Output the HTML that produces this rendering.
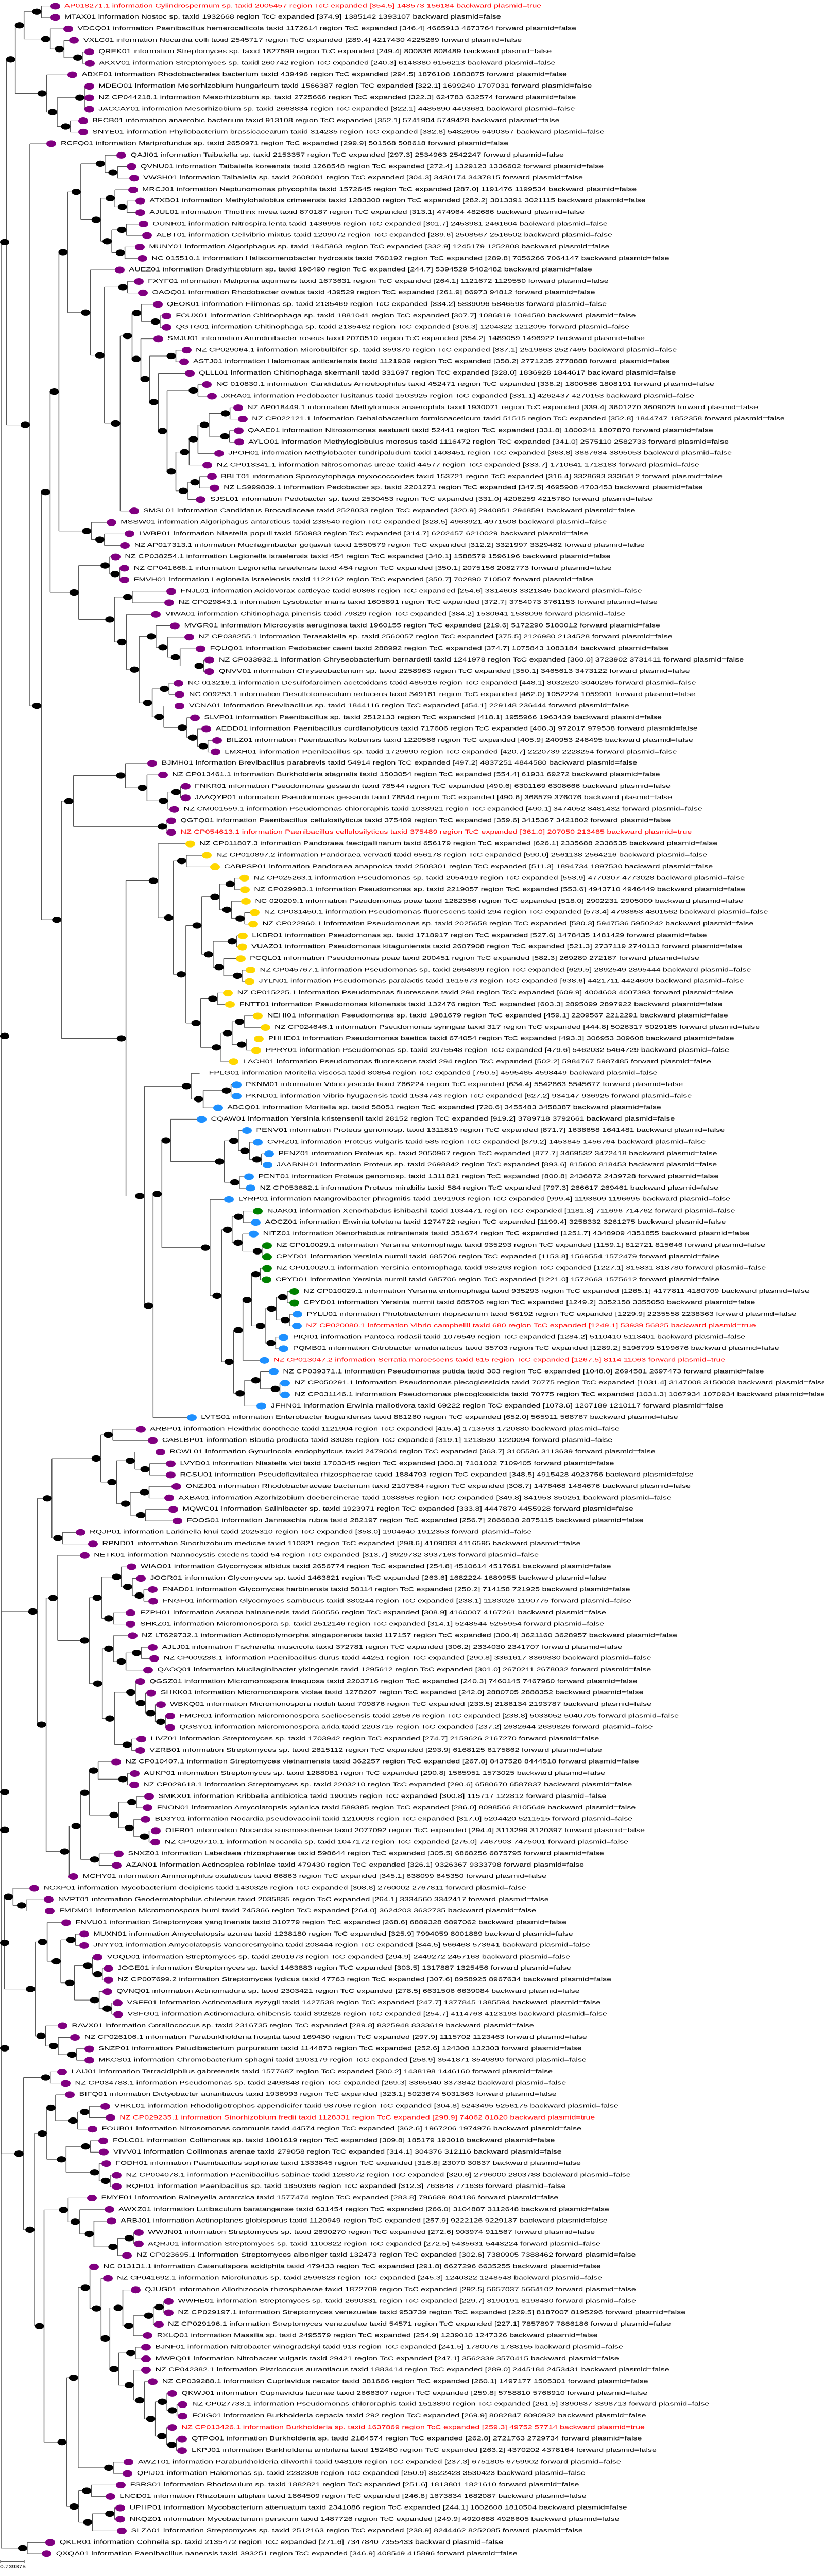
<!DOCTYPE html>
<html><head><meta charset="utf-8">
<style>
html,body{margin:0;padding:0;background:#fff;}
body{width:1600px;height:5000px;position:relative;overflow:hidden;font-family:"Liberation Sans",sans-serif;font-size:16px;color:#000;}
#wrap{position:absolute;left:0;top:0;width:1600px;height:7324px;transform:scaleY(0.6827);transform-origin:0 0;}
#tree{position:absolute;left:0;top:0;z-index:0;}
#rows{position:absolute;left:0;top:0;width:1600px;height:7324px;z-index:1;}
.L{position:absolute;left:0;top:calc(var(--i) * 32.63px + 0.7px);height:32.63px;line-height:32.63px;padding-left:calc(var(--x) * 1.02px + 18px);white-space:nowrap;box-sizing:border-box;}
.L::before{content:"";position:absolute;left:calc(var(--x) * 1.02px - 9.5px);top:calc(50% - 9.5px);width:19px;height:19px;border-radius:50%;background:#800080;}
.y::before{background:#FFD700;}
.b::before{background:#1E90FF;}
.g::before{background:#008000;}
.nd::before{display:none;}
.t{color:#ff0000;}
#scale{position:absolute;left:0;top:7270px;z-index:2;}
</style></head><body>
<div id="wrap">
<svg id="tree" width="1600" height="7324" xmlns="http://www.w3.org/2000/svg"></svg>
<div id="rows">
<div class="L t" style="--i:0;--x:105">AP018271.1 information Cylindrospermum sp. taxid 2005457 region TcC expanded [354.5] 148573 156184 backward plasmid=true</div>
<div class="L" style="--i:1;--x:105">MTAX01 information Nostoc sp. taxid 1932668 region TcC expanded [374.9] 1385142 1393107 backward plasmid=false</div>
<div class="L" style="--i:2;--x:130">VDCQ01 information Paenibacillus hemerocallicola taxid 1172614 region TcC expanded [346.4] 4665913 4673764 forward plasmid=false</div>
<div class="L" style="--i:3;--x:141">VXLC01 information Nocardia colli taxid 2545717 region TcC expanded [289.4] 4217430 4225269 forward plasmid=false</div>
<div class="L" style="--i:4;--x:170">QREK01 information Streptomyces sp. taxid 1827599 region TcC expanded [249.4] 800836 808489 backward plasmid=false</div>
<div class="L" style="--i:5;--x:171">AKXV01 information Streptomyces sp. taxid 260742 region TcC expanded [240.3] 6148380 6156213 backward plasmid=false</div>
<div class="L" style="--i:6;--x:138">ABXF01 information Rhodobacterales bacterium taxid 439496 region TcC expanded [294.5] 1876108 1883875 forward plasmid=false</div>
<div class="L" style="--i:7;--x:170">MDEO01 information Mesorhizobium hungaricum taxid 1566387 region TcC expanded [322.1] 1699240 1707031 forward plasmid=false</div>
<div class="L" style="--i:8;--x:170">NZ CP044218.1 information Mesorhizobium sp. taxid 2725666 region TcC expanded [322.3] 624783 632574 forward plasmid=false</div>
<div class="L" style="--i:9;--x:170">JACCAY01 information Mesorhizobium sp. taxid 2663834 region TcC expanded [322.1] 4485890 4493681 backward plasmid=false</div>
<div class="L" style="--i:10;--x:158">BFCB01 information anaerobic bacterium taxid 913108 region TcC expanded [352.1] 5741904 5749428 backward plasmid=false</div>
<div class="L" style="--i:11;--x:158">SNYE01 information Phyllobacterium brassicacearum taxid 314235 region TcC expanded [332.8] 5482605 5490357 backward plasmid=false</div>
<div class="L" style="--i:12;--x:98">RCFQ01 information Mariprofundus sp. taxid 2650971 region TcC expanded [299.9] 501568 508618 forward plasmid=false</div>
<div class="L" style="--i:13;--x:231">QAJI01 information Taibaiella sp. taxid 2153357 region TcC expanded [297.3] 2534963 2542247 forward plasmid=false</div>
<div class="L" style="--i:14;--x:250">QVNU01 information Taibaiella koreensis taxid 1268548 region TcC expanded [272.4] 1329123 1336602 forward plasmid=false</div>
<div class="L" style="--i:15;--x:255">VWSH01 information Taibaiella sp. taxid 2608001 region TcC expanded [304.3] 3430174 3437815 forward plasmid=false</div>
<div class="L" style="--i:16;--x:253">MRCJ01 information Neptunomonas phycophila taxid 1572645 region TcC expanded [287.0] 1191476 1199534 backward plasmid=false</div>
<div class="L" style="--i:17;--x:267">ATXB01 information Methylohalobius crimeensis taxid 1283300 region TcC expanded [282.2] 3013391 3021115 backward plasmid=false</div>
<div class="L" style="--i:18;--x:267">AJUL01 information Thiothrix nivea taxid 870187 region TcC expanded [313.1] 474964 482686 backward plasmid=false</div>
<div class="L" style="--i:19;--x:273">OUNR01 information Nitrospira lenta taxid 1436998 region TcC expanded [301.7] 2453981 2461604 backward plasmid=false</div>
<div class="L" style="--i:20;--x:280">ALBT01 information Cellvibrio mixtus taxid 1209072 region TcC expanded [289.6] 2508567 2516502 backward plasmid=false</div>
<div class="L" style="--i:21;--x:266">MUNY01 information Algoriphagus sp. taxid 1945863 region TcC expanded [332.9] 1245179 1252808 backward plasmid=false</div>
<div class="L" style="--i:22;--x:271">NC 015510.1 information Haliscomenobacter hydrossis taxid 760192 region TcC expanded [289.8] 7056266 7064147 backward plasmid=false</div>
<div class="L" style="--i:23;--x:228">AUEZ01 information Bradyrhizobium sp. taxid 196490 region TcC expanded [244.7] 5394529 5402482 backward plasmid=false</div>
<div class="L" style="--i:24;--x:264">FXYF01 information Maliponia aquimaris taxid 1673631 region TcC expanded [264.1] 1121672 1129550 forward plasmid=false</div>
<div class="L" style="--i:25;--x:272">OAOQ01 information Rhodobacter ovatus taxid 439529 region TcC expanded [261.9] 86973 94812 forward plasmid=false</div>
<div class="L" style="--i:26;--x:300">QEOK01 information Filimonas sp. taxid 2135469 region TcC expanded [334.2] 5839096 5846593 forward plasmid=false</div>
<div class="L" style="--i:27;--x:317">FOUX01 information Chitinophaga sp. taxid 1881041 region TcC expanded [307.7] 1086819 1094580 backward plasmid=false</div>
<div class="L" style="--i:28;--x:317">QGTG01 information Chitinophaga sp. taxid 2135462 region TcC expanded [306.3] 1204322 1212095 forward plasmid=false</div>
<div class="L" style="--i:29;--x:301">SMJU01 information Arundinibacter roseus taxid 2070510 region TcC expanded [354.2] 1489059 1496922 backward plasmid=false</div>
<div class="L" style="--i:30;--x:355">NZ CP029064.1 information Microbulbifer sp. taxid 359370 region TcC expanded [337.1] 2519863 2527465 backward plasmid=false</div>
<div class="L" style="--i:31;--x:350">ASTJ01 information Halomonas anticariensis taxid 1121939 region TcC expanded [358.2] 2771235 2778888 forward plasmid=false</div>
<div class="L" style="--i:32;--x:361">QLLL01 information Chitinophaga skermanii taxid 331697 region TcC expanded [328.0] 1836928 1844617 backward plasmid=false</div>
<div class="L" style="--i:33;--x:394">NC 010830.1 information Candidatus Amoebophilus taxid 452471 region TcC expanded [338.2] 1800586 1808191 forward plasmid=false</div>
<div class="L" style="--i:34;--x:403">JXRA01 information Pedobacter lusitanus taxid 1503925 region TcC expanded [331.1] 4262437 4270153 backward plasmid=false</div>
<div class="L" style="--i:35;--x:453">NZ AP018449.1 information Methylomusa anaerophila taxid 1930071 region TcC expanded [339.4] 3601270 3609025 forward plasmid=false</div>
<div class="L" style="--i:36;--x:462">NZ CP022121.1 information Dehalobacterium formicoaceticum taxid 51515 region TcC expanded [352.8] 1844747 1852358 forward plasmid=false</div>
<div class="L" style="--i:37;--x:454">QAAE01 information Nitrosomonas aestuarii taxid 52441 region TcC expanded [331.8] 1800241 1807870 forward plasmid=false</div>
<div class="L" style="--i:38;--x:455">AYLO01 information Methyloglobulus morosus taxid 1116472 region TcC expanded [341.0] 2575110 2582733 forward plasmid=false</div>
<div class="L" style="--i:39;--x:417">JPOH01 information Methylobacter tundripaludum taxid 1408451 region TcC expanded [363.8] 3887634 3895053 backward plasmid=false</div>
<div class="L" style="--i:40;--x:395">NZ CP013341.1 information Nitrosomonas ureae taxid 44577 region TcC expanded [333.7] 1710641 1718183 forward plasmid=false</div>
<div class="L" style="--i:41;--x:403">BBLT01 information Sporocytophaga myxococcoides taxid 153721 region TcC expanded [316.4] 3328693 3336412 forward plasmid=false</div>
<div class="L" style="--i:42;--x:408">NZ LS999839.1 information Pedobacter sp. taxid 2201271 region TcC expanded [347.5] 4695908 4703453 backward plasmid=false</div>
<div class="L" style="--i:43;--x:382">SJSL01 information Pedobacter sp. taxid 2530453 region TcC expanded [331.0] 4208259 4215780 forward plasmid=false</div>
<div class="L" style="--i:44;--x:255">SMSL01 information Candidatus Brocadiaceae taxid 2528033 region TcC expanded [320.9] 2940851 2948591 backward plasmid=false</div>
<div class="L" style="--i:45;--x:212">MSSW01 information Algoriphagus antarcticus taxid 238540 region TcC expanded [328.5] 4963921 4971508 backward plasmid=false</div>
<div class="L" style="--i:46;--x:247">LWBP01 information Niastella populi taxid 550983 region TcC expanded [314.7] 6202457 6210029 backward plasmid=false</div>
<div class="L" style="--i:47;--x:238">NZ AP017313.1 information Mucilaginibacter gotjawali taxid 1550579 region TcC expanded [312.2] 3321997 3329482 forward plasmid=false</div>
<div class="L" style="--i:48;--x:220">NZ CP038254.1 information Legionella israelensis taxid 454 region TcC expanded [340.1] 1588579 1596196 backward plasmid=false</div>
<div class="L" style="--i:49;--x:237">NZ CP041668.1 information Legionella israelensis taxid 454 region TcC expanded [350.1] 2075156 2082773 forward plasmid=false</div>
<div class="L" style="--i:50;--x:237">FMVH01 information Legionella israelensis taxid 1122162 region TcC expanded [350.7] 702890 710507 forward plasmid=false</div>
<div class="L" style="--i:51;--x:326">FNJL01 information Acidovorax cattleyae taxid 80868 region TcC expanded [254.6] 3314603 3321845 backward plasmid=false</div>
<div class="L" style="--i:52;--x:322">NZ CP029843.1 information Lysobacter maris taxid 1605891 region TcC expanded [372.7] 3754073 3761153 forward plasmid=false</div>
<div class="L" style="--i:53;--x:297">VIWA01 information Chitinophaga pinensis taxid 79329 region TcC expanded [384.2] 1530641 1538096 forward plasmid=false</div>
<div class="L" style="--i:54;--x:333">MVGR01 information Microcystis aeruginosa taxid 1960155 region TcC expanded [219.6] 5172290 5180012 forward plasmid=false</div>
<div class="L" style="--i:55;--x:360">NZ CP038255.1 information Terasakiella sp. taxid 2560057 region TcC expanded [375.5] 2126980 2134528 forward plasmid=false</div>
<div class="L" style="--i:56;--x:382">FQUQ01 information Pedobacter caeni taxid 288992 region TcC expanded [374.7] 1075843 1083184 backward plasmid=false</div>
<div class="L" style="--i:57;--x:399">NZ CP033932.1 information Chryseobacterium bernardetii taxid 1241978 region TcC expanded [360.0] 3723902 3731411 forward plasmid=false</div>
<div class="L" style="--i:58;--x:399">QNVV01 information Chryseobacterium sp. taxid 2258963 region TcC expanded [350.1] 3465613 3473122 forward plasmid=false</div>
<div class="L" style="--i:59;--x:340">NC 013216.1 information Desulfofarcimen acetoxidans taxid 485916 region TcC expanded [448.1] 3032620 3040285 forward plasmid=false</div>
<div class="L" style="--i:60;--x:342">NC 009253.1 information Desulfotomaculum reducens taxid 349161 region TcC expanded [462.0] 1052224 1059901 forward plasmid=false</div>
<div class="L" style="--i:61;--x:342">VCNA01 information Brevibacillus sp. taxid 1844116 region TcC expanded [454.1] 229148 236444 forward plasmid=false</div>
<div class="L" style="--i:62;--x:371">SLVP01 information Paenibacillus sp. taxid 2512133 region TcC expanded [418.1] 1955966 1963439 backward plasmid=false</div>
<div class="L" style="--i:63;--x:393">AEDD01 information Paenibacillus curdlanolyticus taxid 717606 region TcC expanded [408.3] 972017 979538 forward plasmid=false</div>
<div class="L" style="--i:64;--x:413">BILZ01 information Paenibacillus kobensis taxid 1220566 region TcC expanded [405.9] 240953 248495 backward plasmid=false</div>
<div class="L" style="--i:65;--x:410">LMXH01 information Paenibacillus sp. taxid 1729690 region TcC expanded [420.7] 2220739 2228254 forward plasmid=false</div>
<div class="L" style="--i:66;--x:290">BJMH01 information Brevibacillus parabrevis taxid 54914 region TcC expanded [497.2] 4837251 4844580 backward plasmid=false</div>
<div class="L" style="--i:67;--x:310">NZ CP013461.1 information Burkholderia stagnalis taxid 1503054 region TcC expanded [554.4] 61931 69272 backward plasmid=false</div>
<div class="L" style="--i:68;--x:353">FNKR01 information Pseudomonas gessardii taxid 78544 region TcC expanded [490.6] 6301169 6308666 backward plasmid=false</div>
<div class="L" style="--i:69;--x:353">JAAQYP01 information Pseudomonas gessardii taxid 78544 region TcC expanded [490.6] 368579 376076 backward plasmid=false</div>
<div class="L" style="--i:70;--x:332">NZ CM001559.1 information Pseudomonas chlororaphis taxid 1038921 region TcC expanded [490.1] 3474052 3481432 forward plasmid=false</div>
<div class="L" style="--i:71;--x:326">QGTQ01 information Paenibacillus cellulosilyticus taxid 375489 region TcC expanded [359.6] 3415367 3421802 forward plasmid=false</div>
<div class="L t" style="--i:72;--x:326">NZ CP054613.1 information Paenibacillus cellulosilyticus taxid 375489 region TcC expanded [361.0] 207050 213485 backward plasmid=true</div>
<div class="L y" style="--i:73;--x:362">NZ CP011807.3 information Pandoraea faecigallinarum taxid 656179 region TcC expanded [626.1] 2335688 2338535 backward plasmid=false</div>
<div class="L y" style="--i:74;--x:394">NZ CP010897.2 information Pandoraea vervacti taxid 656178 region TcC expanded [590.0] 2561138 2564216 backward plasmid=false</div>
<div class="L y" style="--i:75;--x:409">CABPSP01 information Pandoraea anapnoica taxid 2508301 region TcC expanded [511.3] 1894734 1897530 backward plasmid=false</div>
<div class="L y" style="--i:76;--x:465">NZ CP025263.1 information Pseudomonas sp. taxid 2054919 region TcC expanded [553.9] 4770307 4773028 backward plasmid=false</div>
<div class="L y" style="--i:77;--x:466">NZ CP029983.1 information Pseudomonas sp. taxid 2219057 region TcC expanded [553.6] 4943710 4946449 backward plasmid=false</div>
<div class="L y" style="--i:78;--x:468">NC 020209.1 information Pseudomonas poae taxid 1282356 region TcC expanded [518.0] 2902231 2905009 backward plasmid=false</div>
<div class="L y" style="--i:79;--x:485">NZ CP031450.1 information Pseudomonas fluorescens taxid 294 region TcC expanded [573.4] 4798853 4801562 backward plasmid=false</div>
<div class="L y" style="--i:80;--x:482">NZ CP022960.1 information Pseudomonas sp. taxid 2025658 region TcC expanded [580.3] 5947536 5950242 backward plasmid=false</div>
<div class="L y" style="--i:81;--x:462">LKBR01 information Pseudomonas sp. taxid 1718917 region TcC expanded [527.6] 1478435 1481429 forward plasmid=false</div>
<div class="L y" style="--i:82;--x:461">VUAZ01 information Pseudomonas kitaguniensis taxid 2607908 region TcC expanded [521.3] 2737119 2740113 forward plasmid=false</div>
<div class="L y" style="--i:83;--x:458">PCQL01 information Pseudomonas poae taxid 200451 region TcC expanded [582.3] 269289 272187 forward plasmid=false</div>
<div class="L y" style="--i:84;--x:477">NZ CP045767.1 information Pseudomonas sp. taxid 2664899 region TcC expanded [629.5] 2892549 2895444 backward plasmid=false</div>
<div class="L y" style="--i:85;--x:475">JYLN01 information Pseudomonas paralactis taxid 1615673 region TcC expanded [638.6] 4421711 4424609 backward plasmid=false</div>
<div class="L y" style="--i:86;--x:434">NZ CP015225.1 information Pseudomonas fluorescens taxid 294 region TcC expanded [609.9] 4004603 4007393 forward plasmid=false</div>
<div class="L y" style="--i:87;--x:438">FNTT01 information Pseudomonas kilonensis taxid 132476 region TcC expanded [603.3] 2895099 2897922 backward plasmid=false</div>
<div class="L y" style="--i:88;--x:491">NEHI01 information Pseudomonas sp. taxid 1981679 region TcC expanded [459.1] 2209567 2212291 backward plasmid=false</div>
<div class="L y" style="--i:89;--x:505">NZ CP024646.1 information Pseudomonas syringae taxid 317 region TcC expanded [444.8] 5026317 5029185 forward plasmid=false</div>
<div class="L y" style="--i:90;--x:493">PHHE01 information Pseudomonas baetica taxid 674054 region TcC expanded [493.3] 306953 309608 backward plasmid=false</div>
<div class="L y" style="--i:91;--x:488">PPRY01 information Pseudomonas sp. taxid 2075548 region TcC expanded [479.6] 5462032 5464729 backward plasmid=false</div>
<div class="L y" style="--i:92;--x:445">LACH01 information Pseudomonas fluorescens taxid 294 region TcC expanded [502.2] 5984767 5987485 forward plasmid=false</div>
<div class="L nd" style="--i:93;--x:380">FPLG01 information Moritella viscosa taxid 80854 region TcC expanded [750.5] 4595485 4598449 backward plasmid=false</div>
<div class="L b" style="--i:94;--x:450">PKNM01 information Vibrio jasicida taxid 766224 region TcC expanded [634.4] 5542863 5545677 forward plasmid=false</div>
<div class="L b" style="--i:95;--x:450">PKND01 information Vibrio hyugaensis taxid 1534743 region TcC expanded [627.2] 934147 936925 forward plasmid=false</div>
<div class="L b" style="--i:96;--x:415">ABCQ01 information Moritella sp. taxid 58051 region TcC expanded [720.6] 3455483 3458387 backward plasmid=false</div>
<div class="L b" style="--i:97;--x:384">CQAW01 information Yersinia kristensenii taxid 28152 region TcC expanded [919.2] 3789718 3792661 backward plasmid=false</div>
<div class="L b" style="--i:98;--x:470">PENV01 information Proteus genomosp. taxid 1311819 region TcC expanded [871.7] 1638658 1641481 backward plasmid=false</div>
<div class="L b" style="--i:99;--x:491">CVRZ01 information Proteus vulgaris taxid 585 region TcC expanded [879.2] 1453845 1456764 backward plasmid=false</div>
<div class="L b" style="--i:100;--x:512">PENZ01 information Proteus sp. taxid 2050967 region TcC expanded [877.7] 3469532 3472418 backward plasmid=false</div>
<div class="L b" style="--i:101;--x:509">JAABNH01 information Proteus sp. taxid 2698842 region TcC expanded [893.6] 815600 818453 backward plasmid=false</div>
<div class="L b" style="--i:102;--x:474">PENT01 information Proteus genomosp. taxid 1311821 region TcC expanded [800.8] 2436872 2439728 forward plasmid=false</div>
<div class="L b" style="--i:103;--x:477">NZ CP053682.1 information Proteus mirabilis taxid 584 region TcC expanded [797.3] 266617 269461 backward plasmid=false</div>
<div class="L b" style="--i:104;--x:436">LYRP01 information Mangrovibacter phragmitis taxid 1691903 region TcC expanded [999.4] 1193809 1196695 backward plasmid=false</div>
<div class="L g" style="--i:105;--x:491">NJAK01 information Xenorhabdus ishibashii taxid 1034471 region TcC expanded [1181.8] 711696 714762 forward plasmid=false</div>
<div class="L b" style="--i:106;--x:487">AOCZ01 information Erwinia toletana taxid 1274722 region TcC expanded [1199.4] 3258332 3261275 backward plasmid=false</div>
<div class="L b" style="--i:107;--x:483">NITZ01 information Xenorhabdus miraniensis taxid 351674 region TcC expanded [1251.7] 4348909 4351855 backward plasmid=false</div>
<div class="L g" style="--i:108;--x:508">NZ CP010029.1 information Yersinia entomophaga taxid 935293 region TcC expanded [1159.1] 812721 815646 forward plasmid=false</div>
<div class="L g" style="--i:109;--x:508">CPYD01 information Yersinia nurmii taxid 685706 region TcC expanded [1153.8] 1569554 1572479 forward plasmid=false</div>
<div class="L g" style="--i:110;--x:508">NZ CP010029.1 information Yersinia entomophaga taxid 935293 region TcC expanded [1227.1] 815831 818780 forward plasmid=false</div>
<div class="L g" style="--i:111;--x:507">CPYD01 information Yersinia nurmii taxid 685706 region TcC expanded [1221.0] 1572663 1575612 forward plasmid=false</div>
<div class="L g" style="--i:112;--x:560">NZ CP010029.1 information Yersinia entomophaga taxid 935293 region TcC expanded [1265.1] 4177811 4180709 backward plasmid=false</div>
<div class="L g" style="--i:113;--x:560">CPYD01 information Yersinia nurmii taxid 685706 region TcC expanded [1249.2] 3352158 3355050 backward plasmid=false</div>
<div class="L b" style="--i:114;--x:566">PYLU01 information Photobacterium iliopiscarium taxid 56192 region TcC expanded [1229.9] 2235558 2238363 forward plasmid=false</div>
<div class="L b t" style="--i:115;--x:565">NZ CP020080.1 information Vibrio campbellii taxid 680 region TcC expanded [1249.1] 53939 56825 backward plasmid=true</div>
<div class="L b" style="--i:116;--x:540">PIQI01 information Pantoea rodasii taxid 1076549 region TcC expanded [1284.2] 5110410 5113401 backward plasmid=false</div>
<div class="L b" style="--i:117;--x:540">PQMB01 information Citrobacter amalonaticus taxid 35703 region TcC expanded [1289.2] 5196799 5199676 backward plasmid=false</div>
<div class="L b t" style="--i:118;--x:503">NZ CP013047.2 information Serratia marcescens taxid 615 region TcC expanded [1267.5] 8114 11063 forward plasmid=true</div>
<div class="L b" style="--i:119;--x:521">NZ CP039371.1 information Pseudomonas putida taxid 303 region TcC expanded [1048.0] 2694581 2697473 forward plasmid=false</div>
<div class="L b" style="--i:120;--x:543">NZ CP050291.1 information Pseudomonas plecoglossicida taxid 70775 region TcC expanded [1031.4] 3147008 3150008 backward plasmid=false</div>
<div class="L b" style="--i:121;--x:543">NZ CP031146.1 information Pseudomonas plecoglossicida taxid 70775 region TcC expanded [1031.3] 1067934 1070934 backward plasmid=false</div>
<div class="L b" style="--i:122;--x:498">JFHN01 information Erwinia mallotivora taxid 69222 region TcC expanded [1073.6] 1207189 1210117 forward plasmid=false</div>
<div class="L b" style="--i:123;--x:365">LVTS01 information Enterobacter bugandensis taxid 881260 region TcC expanded [652.0] 565911 568767 backward plasmid=false</div>
<div class="L" style="--i:124;--x:268">ARBP01 information Flexithrix dorotheae taxid 1121904 region TcC expanded [415.4] 1713593 1720880 backward plasmid=false</div>
<div class="L" style="--i:125;--x:291">CABLBP01 information Blautia producta taxid 33035 region TcC expanded [319.1] 1213530 1220094 forward plasmid=false</div>
<div class="L" style="--i:126;--x:305">RCWL01 information Gynurincola endophyticus taxid 2479004 region TcC expanded [363.7] 3105536 3113639 forward plasmid=false</div>
<div class="L" style="--i:127;--x:325">LVYD01 information Niastella vici taxid 1703345 region TcC expanded [300.3] 7101032 7109405 forward plasmid=false</div>
<div class="L" style="--i:128;--x:325">RCSU01 information Pseudoflavitalea rhizosphaerae taxid 1884793 region TcC expanded [348.5] 4915428 4923756 backward plasmid=false</div>
<div class="L" style="--i:129;--x:336">ONZJ01 information Rhodobacteraceae bacterium taxid 2107584 region TcC expanded [308.7] 1476468 1484676 backward plasmid=false</div>
<div class="L" style="--i:130;--x:322">AXBA01 information Azorhizobium doebereinerae taxid 1038858 region TcC expanded [349.8] 341953 350251 backward plasmid=false</div>
<div class="L" style="--i:131;--x:330">MQWC01 information Salinibacter sp. taxid 1923971 region TcC expanded [333.8] 4447879 4455928 forward plasmid=false</div>
<div class="L" style="--i:132;--x:338">FOOS01 information Jannaschia rubra taxid 282197 region TcC expanded [256.7] 2866838 2875115 backward plasmid=false</div>
<div class="L" style="--i:133;--x:153">RQJP01 information Larkinella knui taxid 2025310 region TcC expanded [358.0] 1904640 1912353 forward plasmid=false</div>
<div class="L" style="--i:134;--x:177">RPND01 information Sinorhizobium medicae taxid 110321 region TcC expanded [298.6] 4109083 4116595 backward plasmid=false</div>
<div class="L" style="--i:135;--x:161">NETK01 information Nannocystis exedens taxid 54 region TcC expanded [313.7] 3929732 3937163 forward plasmid=false</div>
<div class="L" style="--i:136;--x:250">WIAO01 information Glycomyces albidus taxid 2656774 region TcC expanded [254.8] 4510614 4517661 backward plasmid=false</div>
<div class="L" style="--i:137;--x:268">JOGR01 information Glycomyces sp. taxid 1463821 region TcC expanded [263.6] 1682224 1689955 backward plasmid=false</div>
<div class="L" style="--i:138;--x:291">FNAD01 information Glycomyces harbinensis taxid 58114 region TcC expanded [250.2] 714158 721925 backward plasmid=false</div>
<div class="L" style="--i:139;--x:292">FNGF01 information Glycomyces sambucus taxid 380244 region TcC expanded [238.1] 1183026 1190775 forward plasmid=false</div>
<div class="L" style="--i:140;--x:249">FZPH01 information Asanoa hainanensis taxid 560556 region TcC expanded [308.9] 4160007 4167261 backward plasmid=false</div>
<div class="L" style="--i:141;--x:249">SHKZ01 information Micromonospora sp. taxid 2512146 region TcC expanded [314.1] 5248544 5255954 forward plasmid=false</div>
<div class="L" style="--i:142;--x:252">NZ LT629732.1 information Actinopolymorpha singaporensis taxid 117157 region TcC expanded [300.4] 3621160 3628957 backward plasmid=false</div>
<div class="L" style="--i:143;--x:291">AJLJ01 information Fischerella muscicola taxid 372781 region TcC expanded [306.2] 2334030 2341707 forward plasmid=false</div>
<div class="L" style="--i:144;--x:294">NZ CP009288.1 information Paenibacillus durus taxid 44251 region TcC expanded [290.8] 3361617 3369330 backward plasmid=false</div>
<div class="L" style="--i:145;--x:282">QAOQ01 information Mucilaginibacter yixingensis taxid 1295612 region TcC expanded [301.0] 2670211 2678032 forward plasmid=false</div>
<div class="L" style="--i:146;--x:267">QGSZ01 information Micromonospora inaquosa taxid 2203716 region TcC expanded [240.3] 7460145 7467960 forward plasmid=false</div>
<div class="L" style="--i:147;--x:288">SHKK01 information Micromonospora violae taxid 1278207 region TcC expanded [242.0] 2880705 2888352 backward plasmid=false</div>
<div class="L" style="--i:148;--x:306">WBKQ01 information Micromonospora noduli taxid 709876 region TcC expanded [233.5] 2186134 2193787 backward plasmid=false</div>
<div class="L" style="--i:149;--x:324">FMCR01 information Micromonospora saelicesensis taxid 285676 region TcC expanded [238.8] 5033052 5040705 forward plasmid=false</div>
<div class="L" style="--i:150;--x:324">QGSY01 information Micromonospora arida taxid 2203715 region TcC expanded [237.2] 2632644 2639826 forward plasmid=false</div>
<div class="L" style="--i:151;--x:269">LIVZ01 information Streptomyces sp. taxid 1703942 region TcC expanded [274.7] 2159626 2167270 forward plasmid=false</div>
<div class="L" style="--i:152;--x:267">VZRB01 information Streptomyces sp. taxid 2615112 region TcC expanded [293.9] 6168125 6175862 forward plasmid=false</div>
<div class="L" style="--i:153;--x:221">NZ CP010407.1 information Streptomyces vietnamensis taxid 362257 region TcC expanded [267.8] 8437528 8444518 forward plasmid=false</div>
<div class="L" style="--i:154;--x:256">AUKP01 information Streptomyces sp. taxid 1288081 region TcC expanded [290.8] 1565951 1573025 backward plasmid=false</div>
<div class="L" style="--i:155;--x:255">NZ CP029618.1 information Streptomyces sp. taxid 2203210 region TcC expanded [290.6] 6580670 6587837 backward plasmid=false</div>
<div class="L" style="--i:156;--x:284">SMKX01 information Kribbella antibiotica taxid 190195 region TcC expanded [300.8] 115717 122812 forward plasmid=false</div>
<div class="L" style="--i:157;--x:281">FNON01 information Amycolatopsis xylanica taxid 589385 region TcC expanded [286.0] 8098566 8105649 backward plasmid=false</div>
<div class="L" style="--i:158;--x:277">BD3Y01 information Nocardia pseudovaccinii taxid 1210093 region TcC expanded [317.0] 5204420 5211515 forward plasmid=false</div>
<div class="L" style="--i:159;--x:297">OIFR01 information Nocardia suismassiliense taxid 2077092 region TcC expanded [294.4] 3113299 3120397 forward plasmid=false</div>
<div class="L" style="--i:160;--x:296">NZ CP029710.1 information Nocardia sp. taxid 1047172 region TcC expanded [275.0] 7467903 7475001 forward plasmid=false</div>
<div class="L" style="--i:161;--x:226">SNXZ01 information Labedaea rhizosphaerae taxid 598644 region TcC expanded [305.5] 6868256 6875795 forward plasmid=false</div>
<div class="L" style="--i:162;--x:222">AZAN01 information Actinospica robiniae taxid 479430 region TcC expanded [326.1] 9326367 9333798 forward plasmid=false</div>
<div class="L" style="--i:163;--x:140">MCHY01 information Ammoniphilus oxalaticus taxid 66863 region TcC expanded [345.1] 638099 645350 forward plasmid=false</div>
<div class="L" style="--i:164;--x:65">NCXP01 information Mycobacterium decipiens taxid 1430326 region TcC expanded [308.8] 2760002 2767811 forward plasmid=false</div>
<div class="L" style="--i:165;--x:93">NVPT01 information Geodermatophilus chilensis taxid 2035835 region TcC expanded [264.1] 3334560 3342417 forward plasmid=false</div>
<div class="L" style="--i:166;--x:95">FMDM01 information Micromonospora humi taxid 745366 region TcC expanded [264.0] 3624203 3632735 backward plasmid=false</div>
<div class="L" style="--i:167;--x:126">FNVU01 information Streptomyces yanglinensis taxid 310779 region TcC expanded [268.6] 6889328 6897062 backward plasmid=false</div>
<div class="L" style="--i:168;--x:160">MUXN01 information Amycolatopsis azurea taxid 1238180 region TcC expanded [325.9] 7994059 8001889 backward plasmid=false</div>
<div class="L" style="--i:169;--x:160">JNYY01 information Amycolatopsis vancoresmycina taxid 208444 region TcC expanded [344.5] 566468 573641 backward plasmid=false</div>
<div class="L" style="--i:170;--x:186">VOQD01 information Streptomyces sp. taxid 2601673 region TcC expanded [294.9] 2449272 2457168 backward plasmid=false</div>
<div class="L" style="--i:171;--x:206">JOGE01 information Streptomyces sp. taxid 1463883 region TcC expanded [303.5] 1317887 1325456 forward plasmid=false</div>
<div class="L" style="--i:172;--x:206">NZ CP007699.2 information Streptomyces lydicus taxid 47763 region TcC expanded [307.6] 8958925 8967634 backward plasmid=false</div>
<div class="L" style="--i:173;--x:204">QVNQ01 information Actinomadura sp. taxid 2303421 region TcC expanded [278.5] 6631506 6639084 backward plasmid=false</div>
<div class="L" style="--i:174;--x:224">VSFF01 information Actinomadura syzygii taxid 1427538 region TcC expanded [247.7] 1377845 1385594 backward plasmid=false</div>
<div class="L" style="--i:175;--x:225">VSFG01 information Actinomadura chibensis taxid 392828 region TcC expanded [254.7] 4114763 4123193 backward plasmid=false</div>
<div class="L" style="--i:176;--x:119">RAVX01 information Corallococcus sp. taxid 2316735 region TcC expanded [289.8] 8325948 8333619 backward plasmid=false</div>
<div class="L" style="--i:177;--x:143">NZ CP026106.1 information Paraburkholderia hospita taxid 169430 region TcC expanded [297.9] 1115702 1123463 forward plasmid=false</div>
<div class="L" style="--i:178;--x:170">SNZP01 information Paludibacterium purpuratum taxid 1144873 region TcC expanded [252.6] 124308 132303 forward plasmid=false</div>
<div class="L" style="--i:179;--x:170">MKCS01 information Chromobacterium sphagni taxid 1903179 region TcC expanded [258.9] 3541871 3549890 forward plasmid=false</div>
<div class="L" style="--i:180;--x:118">LAIJ01 information Terracidiphilus gabretensis taxid 1577687 region TcC expanded [300.2] 1438198 1446160 forward plasmid=false</div>
<div class="L" style="--i:181;--x:125">NZ CP034783.1 information Pseudomonas sp. taxid 2498848 region TcC expanded [269.3] 3365940 3373842 backward plasmid=false</div>
<div class="L" style="--i:182;--x:133">BIFQ01 information Dictyobacter aurantiacus taxid 1936993 region TcC expanded [323.1] 5023674 5031363 forward plasmid=false</div>
<div class="L" style="--i:183;--x:200">VHKL01 information Rhodoligotrophos appendicifer taxid 987056 region TcC expanded [304.8] 5243495 5256175 backward plasmid=false</div>
<div class="L t" style="--i:184;--x:210">NZ CP029235.1 information Sinorhizobium fredii taxid 1128331 region TcC expanded [298.9] 74062 81820 backward plasmid=true</div>
<div class="L" style="--i:185;--x:176">FOUB01 information Nitrosomonas communis taxid 44574 region TcC expanded [362.6] 1967206 1974976 backward plasmid=false</div>
<div class="L" style="--i:186;--x:197">FOLC01 information Collimonas sp. taxid 1801619 region TcC expanded [309.8] 185179 193018 backward plasmid=false</div>
<div class="L" style="--i:187;--x:198">VIVV01 information Collimonas arenae taxid 279058 region TcC expanded [314.1] 304376 312116 backward plasmid=false</div>
<div class="L" style="--i:188;--x:202">FODH01 information Paenibacillus sophorae taxid 1333845 region TcC expanded [316.8] 23070 30837 backward plasmid=false</div>
<div class="L" style="--i:189;--x:222">NZ CP004078.1 information Paenibacillus sabinae taxid 1268072 region TcC expanded [320.6] 2796000 2803788 backward plasmid=false</div>
<div class="L" style="--i:190;--x:222">RQFI01 information Paenibacillus sp. taxid 1850366 region TcC expanded [312.3] 763848 771636 forward plasmid=false</div>
<div class="L" style="--i:191;--x:175">FMYF01 information Raineyella antarctica taxid 1577474 region TcC expanded [283.8] 796689 804186 forward plasmid=false</div>
<div class="L" style="--i:192;--x:208">AWXZ01 information Lutibaculum baratangense taxid 631454 region TcC expanded [266.0] 3104887 3112648 backward plasmid=false</div>
<div class="L" style="--i:193;--x:212">ARBJ01 information Actinoplanes globisporus taxid 1120949 region TcC expanded [257.9] 9222126 9229137 backward plasmid=false</div>
<div class="L" style="--i:194;--x:264">WWJN01 information Streptomyces sp. taxid 2690270 region TcC expanded [272.6] 903974 911567 forward plasmid=false</div>
<div class="L" style="--i:195;--x:264">AQRJ01 information Streptomyces sp. taxid 1100822 region TcC expanded [272.5] 5435631 5443224 forward plasmid=false</div>
<div class="L" style="--i:196;--x:242">NZ CP023695.1 information Streptomyces alboniger taxid 132473 region TcC expanded [302.6] 7380905 7388462 forward plasmid=false</div>
<div class="L" style="--i:197;--x:179">NC 013131.1 information Catenulispora acidiphila taxid 479433 region TcC expanded [291.8] 6627296 6635255 backward plasmid=false</div>
<div class="L" style="--i:198;--x:205">NZ CP041692.1 information Microlunatus sp. taxid 2596828 region TcC expanded [245.3] 1240322 1248548 backward plasmid=false</div>
<div class="L" style="--i:199;--x:258">QJUG01 information Allorhizocola rhizosphaerae taxid 1872709 region TcC expanded [292.5] 5657037 5664102 forward plasmid=false</div>
<div class="L" style="--i:200;--x:321">WWHE01 information Streptomyces sp. taxid 2690331 region TcC expanded [229.7] 8190191 8198480 forward plasmid=false</div>
<div class="L" style="--i:201;--x:321">NZ CP029197.1 information Streptomyces venezuelae taxid 953739 region TcC expanded [229.5] 8187007 8195296 forward plasmid=false</div>
<div class="L" style="--i:202;--x:302">NZ CP029196.1 information Streptomyces venezuelae taxid 54571 region TcC expanded [227.1] 7857897 7866186 forward plasmid=false</div>
<div class="L" style="--i:203;--x:281">RXLQ01 information Massilia sp. taxid 2495579 region TcC expanded [254.9] 1239010 1247326 backward plasmid=false</div>
<div class="L" style="--i:204;--x:278">BJNF01 information Nitrobacter winogradskyi taxid 913 region TcC expanded [241.5] 1780076 1788155 backward plasmid=false</div>
<div class="L" style="--i:205;--x:278">MWPQ01 information Nitrobacter vulgaris taxid 29421 region TcC expanded [247.1] 3562339 3570415 backward plasmid=false</div>
<div class="L" style="--i:206;--x:278">NZ CP042382.1 information Pistricoccus aurantiacus taxid 1883414 region TcC expanded [289.0] 2445184 2453431 backward plasmid=false</div>
<div class="L" style="--i:207;--x:291">NZ CP039288.1 information Cupriavidus necator taxid 381666 region TcC expanded [260.1] 1497177 1505301 forward plasmid=false</div>
<div class="L" style="--i:208;--x:328">QKWJ01 information Cupriavidus lacunae taxid 2666307 region TcC expanded [259.8] 5758810 5766910 forward plasmid=false</div>
<div class="L" style="--i:209;--x:348">NZ CP027738.1 information Pseudomonas chlororaphis taxid 1513890 region TcC expanded [261.5] 3390637 3398713 forward plasmid=false</div>
<div class="L" style="--i:210;--x:348">FOIG01 information Burkholderia cepacia taxid 292 region TcC expanded [269.9] 8082847 8090932 backward plasmid=false</div>
<div class="L t" style="--i:211;--x:328">NZ CP013426.1 information Burkholderia sp. taxid 1637869 region TcC expanded [259.3] 49752 57714 backward plasmid=true</div>
<div class="L" style="--i:212;--x:347">QTPO01 information Burkholderia sp. taxid 2184574 region TcC expanded [262.8] 2721763 2729734 forward plasmid=false</div>
<div class="L" style="--i:213;--x:347">LKPJ01 information Burkholderia ambifaria taxid 152480 region TcC expanded [263.2] 4370202 4378164 forward plasmid=false</div>
<div class="L" style="--i:214;--x:245">AWZT01 information Paraburkholderia dilworthii taxid 948106 region TcC expanded [237.3] 6751805 6759902 forward plasmid=false</div>
<div class="L" style="--i:215;--x:243">QPIJ01 information Halomonas sp. taxid 2282306 region TcC expanded [250.9] 3522428 3530423 backward plasmid=false</div>
<div class="L" style="--i:216;--x:230">FSRS01 information Rhodovulum sp. taxid 1882821 region TcC expanded [251.6] 1813801 1821610 forward plasmid=false</div>
<div class="L" style="--i:217;--x:210">LNCD01 information Rhizobium altiplani taxid 1864509 region TcC expanded [246.8] 1673834 1682087 backward plasmid=false</div>
<div class="L" style="--i:218;--x:229">UPHP01 information Mycobacterium attenuatum taxid 2341086 region TcC expanded [244.1] 1802608 1810504 backward plasmid=false</div>
<div class="L" style="--i:219;--x:229">NKQZ01 information Mycobacterium persicum taxid 1487726 region TcC expanded [249.9] 4920688 4928605 backward plasmid=false</div>
<div class="L" style="--i:220;--x:232">SLZA01 information Streptomyces sp. taxid 2512163 region TcC expanded [238.9] 8244462 8252085 forward plasmid=false</div>
<div class="L" style="--i:221;--x:96">QKLR01 information Cohnella sp. taxid 2135472 region TcC expanded [271.6] 7347840 7355433 backward plasmid=false</div>
<div class="L" style="--i:222;--x:89">QXQA01 information Paenibacillus nanensis taxid 393251 region TcC expanded [346.9] 408549 415896 forward plasmid=false</div>
</div>
<svg id="scale" width="120" height="40" xmlns="http://www.w3.org/2000/svg">
<line x1="1" y1="12" x2="47" y2="12" stroke="#444" stroke-width="1.2"/>
<line x1="1" y1="7" x2="1" y2="17" stroke="#444" stroke-width="1.2"/>
<line x1="47" y1="7" x2="47" y2="17" stroke="#444" stroke-width="1.2"/>
<text x="0" y="31" font-family="Liberation Sans, sans-serif" font-size="12" fill="#000">0.739375</text>
</svg>
</div>
<script>
(function(){
var rows=document.querySelectorAll('#rows .L');
var X=[];for(var i=0;i<rows.length;i++){X.push(parseFloat(rows[i].style.getPropertyValue('--x'))*1.02);}
function Y(i){return 17+32.63*i;}
function N(x){var k=Array.prototype.slice.call(arguments,1);return {x:x,k:k};}
var A=N(37,N(70,0,1),N(87,2,N(113,3,N(148,4,5))));
var B=N(80,6,N(100,N(152,7,8,9),N(125,10,11)));
var AB=N(30,A,B);
var C=N(145,N(191,13,N(215,14,15)),N(183,N(210,16,N(233,17,18)),N(204,N(232,19,20),N(229,21,22))));
var H=N(355,N(368,N(389,N(429,35,36),N(428,37,38)),39),40);
var I=N(349,N(371,41,42),43);
var K=N(300,32,N(340,N(368,33,34),N(326,H,I)));
var L=N(283,29,N(293,N(326,30,31),K));
var M=N(255,N(260,26,N(296,27,28)),L);
var D=N(163,23,N(190,N(234,24,25),N(220,M,44)));
var CDE=N(110,N(120,C,D),N(165,45,N(190,46,47)));
var S=N(209,N(243,51,52),N(232,53,N(256,N(288,54,N(310,55,N(334,56,N(379,57,58)))),N(281,N(313,59,60),N(303,61,N(347,62,N(367,63,N(387,64,65))))))));
var T=N(230,66,N(271,67,N(311,N(335,68,69),70)));
var Y1=N(346,74,75),Y4=N(409,N(438,76,77),N(432,78,N(457,79,80))),Y7=N(397,N(442,81,82),N(417,83,N(452,84,85)));
var Y12=N(373,N(405,86,87),N(412,N(433,N(456,88,89),N(460,90,91)),92));
var YY=N(292,73,N(321,Y1,N(345,N(375,Y4,Y7),Y12)));
var B1=N(355,93,N(378,N(431,94,95),96));
var B2=N(316,97,N(418,N(445,98,N(466,99,N(489,100,101))),N(447,102,103)));
var B3=N(391,104,N(413,N(433,N(454,105,106),N(453,107,N(490,108,109))),N(436,N(457,N(477,N(487,110,111),N(496,N(517,N(538,112,113),N(543,114,115)),N(516,116,117))),118),N(457,N(487,119,N(524,120,121)),122))));
var BLUE=N(267,B1,N(291,N(341,B2,B3),123));
var YB=N(231,YY,BLUE);
var MID1=N(88,N(100,CDE,N(141,N(200,48,N(219,49,50)),S)),N(108,N(131,T,N(309,71,72)),YB));
var P5=N(183,N(206,124,125),N(213,N(248,126,N(276,127,128)),N(239,N(275,129,130),N(268,131,132))));
var GP=N(90,P5,N(110,133,134));
var Q3=N(185,N(222,136,N(243,137,N(265,138,139))),N(207,140,141));
var Q4=N(207,142,N(231,N(260,143,144),145));
var Q7=N(209,N(249,146,N(268,147,N(287,148,N(306,149,150)))),N(242,151,152));
var Q9=N(161,Q3,N(186,Q4,Q7));
var Q14=N(201,N(178,153,N(234,154,155)),N(217,N(251,156,157),N(246,158,N(275,159,160))));
var Q17=N(123,N(145,Q14,N(180,161,162)),163);
var GQ=N(79,N(101,135,Q9),Q17);
var GPQ=N(67,GP,GQ);
var R=N(58,N(81,167,N(107,N(135,168,169),N(133,N(167,170,N(186,171,172)),N(180,173,N(204,174,175))))),N(78,176,N(102,177,N(137,178,179))));
var GR=N(30,N(16,164,N(41,165,166)),R);
var S1=N(87,180,181);
var S2=N(97,182,N(139,N(161,183,184),185));
var S3=N(117,N(163,186,187),N(180,188,N(201,189,190)));
var S5=N(121,191,N(143,192,N(170,193,N(215,N(246,194,195),196))));
var T1=N(225,199,N(245,N(283,N(303,200,201),202),203));
var T2=N(217,N(249,204,205),N(246,206,N(266,207,N(287,N(309,208,N(328,209,210)),N(308,211,N(327,212,213))))));
var T7=N(140,N(165,197,N(185,198,N(206,T1,T2))),N(207,214,215));
var U=N(141,N(165,216,217),N(167,N(209,218,219),220));
var V=N(118,T7,U);
var GS=N(36,S1,N(57,N(97,S2,S3),N(75,S5,V)));
var LOWER=N(10,GPQ,N(14,GR,GS));
var MAIN=N(8,N(16,N(40,AB,N(48,12,MID1)),LOWER));
var ROOT=N(4,MAIN,N(43,221,222));
var svg=document.getElementById('tree');
var lines=[],dots=[];
function calc(n){
 if(typeof n==='number'){return {vx:X[n],px:X[n],y:Y(n)};}
 var ks=n.k.map(calc);
 var mn=Infinity;ks.forEach(function(c){mn=Math.min(mn,c.px);});
 var vx=n.x*1.02+9; if(vx>mn-8) vx=mn-8; if(vx<2) vx=2;
 var y0=ks[0].y,y1=ks[ks.length-1].y,ym=(y0+y1)/2;
 if(ks.length>1) lines.push([vx,y0,vx,y1]);
 ks.forEach(function(c){lines.push([vx,c.y,c.px,c.y]);});
 var dx=Math.max(vx-9,9);
 dots.push([dx,ym]);
 return {vx:vx,px:dx,y:ym};
}
calc(ROOT);
var h='';
lines.forEach(function(l){h+='<line x1="'+l[0].toFixed(1)+'" y1="'+l[1].toFixed(1)+'" x2="'+l[2].toFixed(1)+'" y2="'+l[3].toFixed(1)+'" stroke="#555" stroke-width="1.5"/>';});
dots.forEach(function(d){h+='<circle cx="'+d[0].toFixed(1)+'" cy="'+d[1].toFixed(1)+'" r="9" fill="#000"/>';});
svg.innerHTML=h;
})();
</script>
</body></html>
